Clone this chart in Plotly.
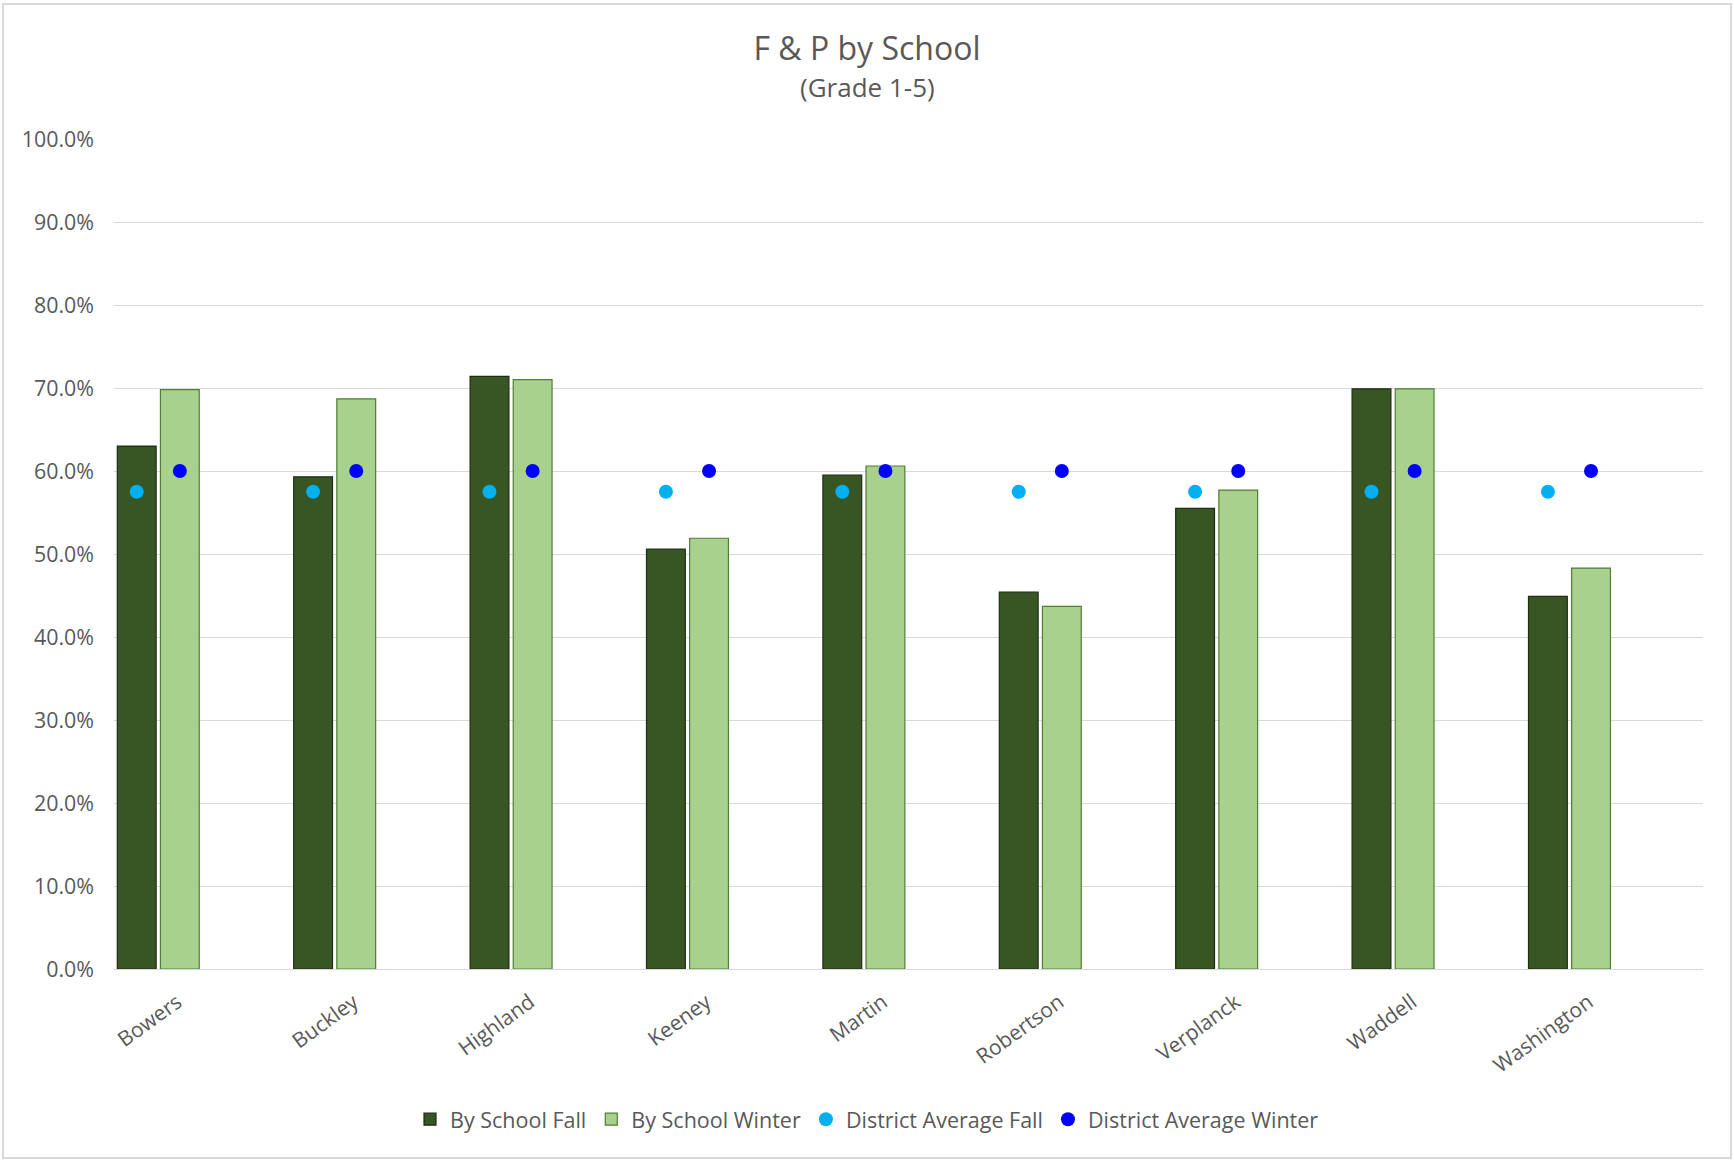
import plotly.graph_objects as go

schools = ["Bowers", "Buckley", "Highland", "Keeney", "Martin",
           "Robertson", "Verplanck", "Waddell", "Washington"]
school_fall = [0.630, 0.593, 0.714, 0.506, 0.595, 0.454, 0.555, 0.699, 0.449]
school_winter = [0.698, 0.687, 0.710, 0.519, 0.606, 0.437, 0.577, 0.699, 0.483]
district_fall = [0.575] * 9
district_winter = [0.600] * 9
y_ticks = [i / 10 for i in range(11)]

font_family = "Open Sans, Lato, sans-serif"
grey_text = "#595959"

fig = go.Figure()
fig.add_trace(go.Bar(x=schools, y=school_fall, name="By School Fall",
                     marker=dict(color="#375623", line=dict(color="#1f2d14", width=1.2))))
fig.add_trace(go.Bar(x=schools, y=school_winter, name="By School Winter",
                     marker=dict(color="#A9D18E", line=dict(color="#507E32", width=1.2))))
fig.add_trace(go.Scatter(x=schools, y=district_fall, name="District Average Fall",
                         mode="markers", marker=dict(color="#00B0F0", size=14)))
fig.add_trace(go.Scatter(x=schools, y=district_winter, name="District Average Winter",
                         mode="markers", marker=dict(color="#0000FF", size=14)))

fig.update_layout(
    width=1734, height=1161,
    paper_bgcolor="white", plot_bgcolor="white",
    margin=dict(l=114, r=31, t=139, b=192),
    barmode="group", bargap=0.511, bargroupgap=0.10,
    scattermode="group", scattergap=0.511,
    font=dict(family=font_family, color=grey_text, size=21),
    title=dict(
        text="F & P by School",
        x=0.5, xanchor="center", y=0.958, yanchor="middle",
        font=dict(size=32, color=grey_text),
    ),
    # subtitle centred on the whole figure, not the plot area
    annotations=[dict(text="(Grade 1-5)", xref="paper", yref="paper",
                      x=0.4739, y=1.0627, xanchor="center", yanchor="middle",
                      showarrow=False, font=dict(size=26, color=grey_text))],
    xaxis=dict(type="category", range=[-0.251, 8.757], tickangle=-36,
               showgrid=False, showline=False, ticks="",
               ticklabelshift=19, ticklabelstandoff=16,
               tickfont=dict(size=21, color=grey_text)),
    yaxis=dict(range=[0, 1], tickvals=y_ticks, tickformat=".1%",
               showgrid=True, gridcolor="#D9D9D9", gridwidth=1,
               zeroline=True, zerolinecolor="#D9D9D9", zerolinewidth=1,
               ticks="", ticklabelstandoff=19,
               tickfont=dict(size=21.4, color=grey_text)),
    legend=dict(orientation="h", xref="container", yref="container",
                x=0.5, xanchor="center", y=0.036, yanchor="middle",
                font=dict(size=21.5, color=grey_text), itemwidth=30),
    shapes=[dict(type="rect", xref="paper", yref="paper",
                 x0=-0.0699, x1=1.0176, y0=-0.2277, y1=1.1627,
                 line=dict(color="#D9D9D9", width=2))],
)

fig.write_html("out.html", config={"displayModeBar": False},
               post_script="document.body.style.margin='0';")
